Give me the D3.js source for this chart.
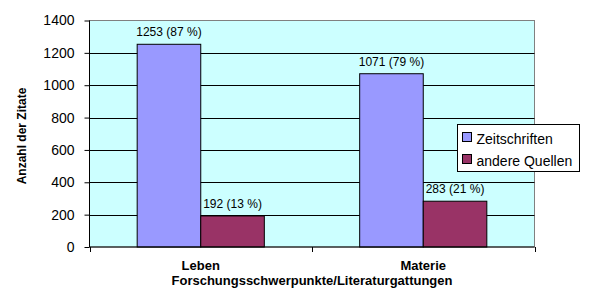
<!DOCTYPE html>
<html>
<head>
<meta charset="utf-8">
<script src="https://cdn.jsdelivr.net/npm/d3@7.9.0/dist/d3.min.js"></script>
<style>
  body { margin: 0; background: #fff; }
  svg { display: block; font-family: "Liberation Sans", Arial, sans-serif; }
</style>
</head>
<body>
<svg id="chart" width="600" height="291"></svg>
<script>
// data
const categories = ['Leben', 'Materie'];
const seriesNames = ['Zeitschriften', 'andere Quellen'];
const zeitschriften = [1253, 1071];
const andereQuellen = [192, 283];
const percentZeit = [87, 79];
const percentAndere = [13, 21];
const yTicks = [0, 200, 400, 600, 800, 1000, 1200, 1400];

const colors = ['#9999ff', '#993366'];

const width = 600, height = 291;
const plot = { left: 89.5, right: 534.5, top: 20.5, bottom: 247 };

const svg = d3.select('#chart');

const x0 = d3.scaleBand()
  .domain(categories)
  .range([plot.left, plot.right])
  .paddingInner(0)
  .paddingOuter(0);

const x1 = d3.scaleBand()
  .domain(seriesNames)
  .range([0, x0.bandwidth()])
  .paddingInner(0)
  .paddingOuter(0.75);

const y = d3.scaleLinear()
  .domain([0, 1400])
  .range([plot.bottom, plot.top]);

// plot background
svg.append('rect')
  .attr('x', plot.left).attr('y', plot.top)
  .attr('width', plot.right - plot.left)
  .attr('height', plot.bottom - plot.top)
  .attr('fill', '#ccffff')
  .attr('stroke', '#808080');

// gridlines
svg.append('g')
  .selectAll('line')
  .data(yTicks.filter(d => d > 0 && d < 1400))
  .join('line')
  .attr('x1', plot.left).attr('x2', plot.right)
  .attr('y1', d => Math.round(y(d)) + 0.5).attr('y2', d => Math.round(y(d)) + 0.5)
  .attr('stroke', '#000');

// bars
const rows = categories.map((c, i) => ({
  cat: c,
  values: [
    { s: seriesNames[0], v: zeitschriften[i], p: percentZeit[i] },
    { s: seriesNames[1], v: andereQuellen[i], p: percentAndere[i] }
  ]
}));

const groups = svg.append('g')
  .selectAll('g')
  .data(rows)
  .join('g')
  .attr('transform', d => `translate(${x0(d.cat)},0)`);

groups.selectAll('rect')
  .data(d => d.values)
  .join('rect')
  .attr('x', d => x1(d.s))
  .attr('y', d => y(d.v))
  .attr('width', x1.bandwidth())
  .attr('height', d => y(0) - y(d.v))
  .attr('fill', (d, i) => colors[i])
  .attr('stroke', '#000');

groups.selectAll('text')
  .data(d => d.values)
  .join('text')
  .attr('x', d => x1(d.s) + x1.bandwidth() / 2)
  .attr('y', d => y(d.v) - 8)
  .attr('text-anchor', 'middle')
  .attr('font-size', 12)
  .text(d => `${d.v} (${d.p} %)`);

// y axis
const yAxis = svg.append('g')
  .attr('transform', `translate(${plot.left},0)`)
  .call(d3.axisLeft(y).tickValues(yTicks).tickFormat(d3.format('d')).tickSize(5).tickPadding(10));
yAxis.selectAll('text').attr('font-size', 14).attr('font-family', '"Liberation Sans", Arial, sans-serif').attr('fill', '#000');
yAxis.select('.domain').attr('d', `M0,${plot.top}V${plot.bottom}`);

// x axis
const xAxis = svg.append('g')
  .attr('transform', `translate(0,${plot.bottom})`);
xAxis.append('line')
  .attr('x1', plot.left).attr('x2', plot.right)
  .attr('stroke', '#000');
xAxis.selectAll('line.tick')
  .data([...categories.map(c => x0(c)), plot.right])
  .join('line')
  .attr('class', 'tick')
  .attr('x1', d => Math.round(d) + 0.5).attr('x2', d => Math.round(d) + 0.5)
  .attr('y1', 0).attr('y2', 5)
  .attr('stroke', '#000');
xAxis.selectAll('text')
  .data(categories)
  .join('text')
  .attr('x', d => x0(d) + x0.bandwidth() / 2)
  .attr('y', 23)
  .attr('text-anchor', 'middle')
  .attr('font-size', 13)
  .attr('font-weight', 'bold')
  .text(d => d);

// axis titles
svg.append('text')
  .attr('x', (plot.left + plot.right) / 2)
  .attr('y', 285)
  .attr('text-anchor', 'middle')
  .attr('font-size', 13)
  .attr('font-weight', 'bold')
  .text('Forschungsschwerpunkte/Literaturgattungen');

svg.append('text')
  .attr('transform', `translate(26,136) rotate(-90)`)
  .attr('text-anchor', 'middle')
  .attr('font-size', 12)
  .attr('font-weight', 'bold')
  .text('Anzahl der Zitate');

// legend
const legend = svg.append('g').attr('transform', 'translate(457.5,124.5)');
legend.append('rect')
  .attr('width', 122).attr('height', 47)
  .attr('fill', '#fff').attr('stroke', '#000');
const li = legend.selectAll('g')
  .data(seriesNames)
  .join('g')
  .attr('transform', (d, i) => `translate(5,${8 + i * 22})`);
li.append('rect')
  .attr('width', 9).attr('height', 9)
  .attr('fill', (d, i) => colors[i]).attr('stroke', '#000');
li.append('text')
  .attr('x', 14).attr('y', 11)
  .attr('font-size', 14)
  .text(d => d);
</script>
</body>
</html>
